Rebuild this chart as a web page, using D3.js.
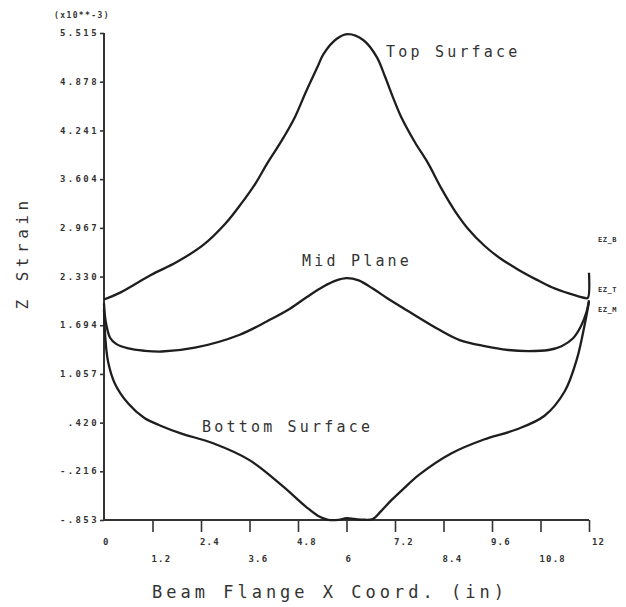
<!DOCTYPE html>
<html>
<head>
<meta charset="utf-8">
<script src="https://cdn.jsdelivr.net/npm/d3@7"></script>
<style>
  body { margin: 0; background: #fff; }
  svg text { font-family: "DejaVu Sans Mono", "Liberation Mono", monospace; fill: #333; }
</style>
</head>
<body>
<svg id="chart" width="626" height="607"></svg>
<script>
// axis ticks as printed on the plot
const xTicks = [0, 1.2, 2.4, 3.6, 4.8, 6, 7.2, 8.4, 9.6, 10.8, 12];
const xTickLabels = ["0", "1.2", "2.4", "3.6", "4.8", "6", "7.2", "8.4", "9.6", "10.8", "12"];
const yTicks = [5.515, 4.878, 4.241, 3.604, 2.967, 2.330, 1.694, 1.057, 0.420, -0.216, -0.853];
const yTickLabels = ["5.515", "4.878", "4.241", "3.604", "2.967", "2.330", "1.694", "1.057", ".420", "-.216", "-.853"];

// top surface strain (x10^-3)
const topX = [0, 0.4, 1.16, 1.8, 2.45, 3.0, 3.39, 3.75, 4.05, 4.4, 4.71, 5.0, 5.29, 5.43, 5.76, 6.04, 6.42, 6.75, 6.95, 7.16, 7.35, 7.7, 8.01, 8.35, 8.68, 9.0, 9.42, 9.8, 10.25, 10.7, 11.08, 11.5, 11.9, 11.97, 12.0];
const topZ = [2.03, 2.12, 2.35, 2.52, 2.74, 3.02, 3.28, 3.55, 3.82, 4.11, 4.40, 4.75, 5.08, 5.24, 5.44, 5.50, 5.42, 5.20, 4.95, 4.66, 4.42, 4.08, 3.82, 3.48, 3.19, 2.96, 2.73, 2.57, 2.42, 2.29, 2.19, 2.11, 2.05, 2.05, 2.38];

// mid plane strain
const midX = [0, 0.04, 0.15, 0.3, 0.6, 1.0, 1.43, 2.25, 3.36, 4.05, 4.6, 5.04, 5.43, 5.75, 6.0, 6.3, 6.66, 7.0, 7.49, 8.31, 8.8, 9.42, 10.0, 10.49, 11.0, 11.32, 11.6, 11.8, 11.94, 12.0];
const midZ = [1.98, 1.75, 1.53, 1.45, 1.39, 1.36, 1.35, 1.40, 1.57, 1.75, 1.91, 2.07, 2.20, 2.28, 2.31, 2.28, 2.17, 2.05, 1.89, 1.63, 1.50, 1.42, 1.37, 1.355, 1.37, 1.42, 1.52, 1.68, 1.87, 2.02];

// bottom surface strain
const botX = [0, 0.03, 0.1, 0.27, 0.6, 1.0, 1.4, 1.9, 2.7, 3.6, 4.4, 5.0, 5.3, 5.55, 5.8, 6.0, 6.2, 6.45, 6.65, 6.85, 7.1, 7.4, 7.8, 8.6, 9.4, 10.2, 10.9, 11.4, 11.7, 11.9, 12.0];
const botZ = [1.9, 1.55, 1.22, 0.93, 0.67, 0.48, 0.38, 0.28, 0.15, -0.07, -0.40, -0.68, -0.80, -0.85, -0.85, -0.83, -0.84, -0.85, -0.84, -0.74, -0.60, -0.45, -0.26, 0.02, 0.20, 0.33, 0.51, 0.83, 1.25, 1.72, 2.0];

const svg = d3.select("#chart");

// plot frame
const x = d3.scaleLinear().domain([0, 12]).range([104, 589]);
const y = d3.scaleLinear().domain([-0.853, 5.515]).range([520, 33]);

// y axis, ticks to the left, labels drawn separately
let yAxis = svg.append("g")
    .attr("transform", "translate(104,0)")
    .call(d3.axisLeft(y).tickValues(yTicks).tickSize(4).tickFormat(""));
yAxis.select(".domain").attr("d", "M0," + y(5.515) + "V" + y(-0.853));

// x axis, ticks hanging down
let xAxis = svg.append("g")
    .attr("transform", "translate(0,520)")
    .call(d3.axisBottom(x).tickValues(xTicks.slice(1)).tickSize(12).tickFormat(""));
xAxis.select(".domain").attr("d", "M" + x(0) + ",0H" + x(12));

svg.selectAll(".domain").attr("stroke", "#333").attr("stroke-width", 2);
svg.selectAll(".tick line").attr("stroke", "#333").attr("stroke-width", 1.6);

// y tick labels
svg.append("g").selectAll("text")
    .data(yTicks)
    .enter().append("text")
    .attr("x", 99)
    .attr("y", d => y(d))
    .attr("dy", "0.35em")
    .attr("text-anchor", "end")
    .style("font-size", "9px")
    .style("letter-spacing", "2.4px")
    .style("font-weight", "bold")
    .text((d, i) => yTickLabels[i]);

// x tick labels alternate between two rows
svg.append("g").selectAll("text")
    .data(xTicks)
    .enter().append("text")
    .attr("x", d => x(d) + (d === 12 ? 3 : -1))
    .attr("y", (d, i) => i % 2 === 0 ? 545 : 562)
    .style("font-size", "9px")
    .style("letter-spacing", "1.2px")
    .style("font-weight", "bold")
    .text((d, i) => xTickLabels[i]);

// the three strain curves
const line = d3.line()
    .x(d => x(d[0]))
    .y(d => y(d[1]))
    .curve(d3.curveCatmullRom.alpha(0.5));

const series = [
    d3.zip(topX, topZ),
    d3.zip(midX, midZ),
    d3.zip(botX, botZ)
];

svg.append("g").selectAll("path")
    .data(series)
    .enter().append("path")
    .attr("d", line)
    .attr("fill", "none")
    .attr("stroke", "#1e1e1e")
    .attr("stroke-width", 2.3)
    .attr("stroke-linejoin", "round");

// curve labels
const big = (txt, px, py) => svg.append("text")
    .attr("x", px).attr("y", py)
    .style("font-size", "15px")
    .style("letter-spacing", "3.2px")
    .text(txt);
big("Top Surface", 386, 57);
big("Mid Plane", 302, 266);
big("Bottom Surface", 202, 432);

// axis titles
svg.append("text")
    .attr("x", 152).attr("y", 598)
    .style("font-size", "17px")
    .style("letter-spacing", "4px")
    .text("Beam Flange X Coord. (in)");

svg.append("text")
    .attr("transform", "translate(28,253) rotate(-90)")
    .attr("text-anchor", "middle")
    .style("font-size", "16px")
    .style("letter-spacing", "4.5px")
    .text("Z Strain");

// scale factor note
svg.append("text")
    .attr("x", 54).attr("y", 18)
    .style("font-size", "8px")
    .style("letter-spacing", "1.4px")
    .style("font-weight", "bold")
    .text("(x10**-3)");

// series tags on the right
const tags = ["EZ_B", "EZ_T", "EZ_M"];
const tagY = [242, 292, 312];
svg.append("g").selectAll("text")
    .data(tags)
    .enter().append("text")
    .attr("x", 598)
    .attr("y", (d, i) => tagY[i])
    .style("font-size", "7px")
    .style("font-weight", "bold")
    .style("letter-spacing", "0.5px")
    .text(d => d);
</script>
</body>
</html>
